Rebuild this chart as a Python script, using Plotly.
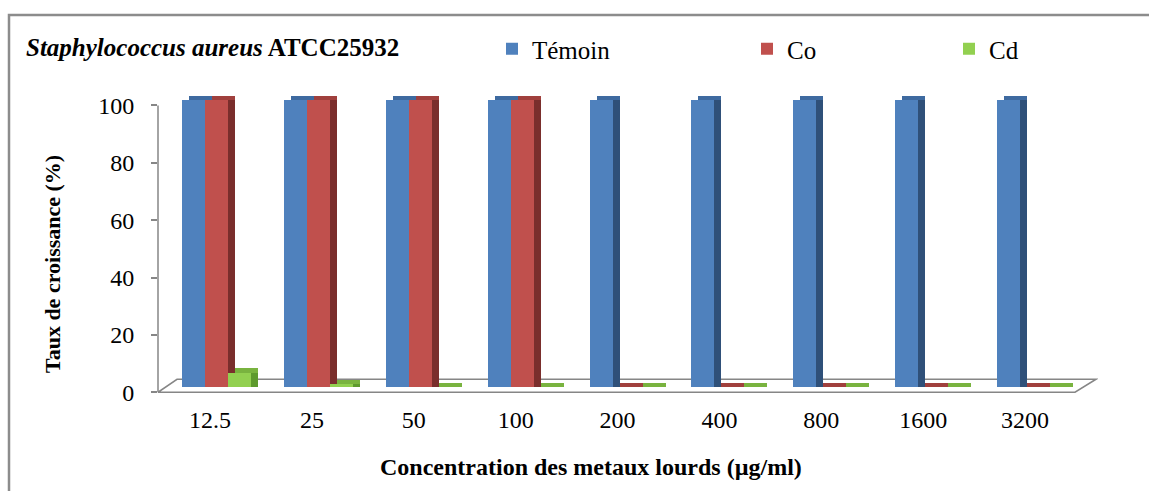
import plotly.graph_objects as go

# ---------------- data ----------------
categories = ["12.5", "25", "50", "100", "200", "400", "800", "1600", "3200"]
temoin = [100, 100, 100, 100, 100, 100, 100, 100, 100]
co = [100, 100, 100, 100, 0, 0, 0, 0, 0]
cd = [5, 1, 0, 0, 0, 0, 0, 0, 0]
series_names = ["Témoin", "Co", "Cd"]

# ---------------- styling ----------------
W, H = 1149, 491
ML, MR, MT, MB = 158, 51, 94, 93
PW, PH = W - ML - MR, H - MT - MB

GROUP_PX = 101.875          # pixels per category
CENTER0_PX = 216.5          # pixel of first group centre
X_MIN = (ML - CENTER0_PX) / GROUP_PX
X_MAX = (W - MR - CENTER0_PX) / GROUP_PX
Y_MIN, Y_MAX = -2, 104
PX_PER_Y = PH / (Y_MAX - Y_MIN)

BAR_W = 23 / GROUP_PX
DX = 7 / GROUP_PX           # 3D depth (x)
DY = 4.5 / PX_PER_Y         # 3D depth (y)
BAR_BASE = 5 / PX_PER_Y     # bars stand in the middle of the floor
FLOOR_D = 13 / PX_PER_Y
LABEL_SHIFT = 6.5 / GROUP_PX

front_cols = ["#4F81BD", "#C0504D", "#92D050"]
top_cols = ["#3E6AA0", "#A0403D", "#79B33F"]
side_cols = ["#2F5079", "#7A2E2C", "#5E9A2E"]
offsets = [-1.5 * BAR_W, -0.5 * BAR_W, 0.5 * BAR_W]

SERIF = "Liberation Serif, Times New Roman, serif"
GRAY = "#868686"

xs = list(range(len(categories)))
fig = go.Figure()

legend_ids = ["legend", "legend2", "legend3"]
for k, vals in enumerate([temoin, co, cd]):
    # side face (dark)
    fig.add_trace(go.Bar(
        x=xs, y=[v + DY for v in vals], base=BAR_BASE,
        offset=offsets[k] + DX, width=BAR_W,
        marker=dict(color=side_cols[k], line=dict(width=0)),
        showlegend=False, hoverinfo="skip"))
    # top face (medium)
    fig.add_trace(go.Bar(
        x=xs, y=[DY] * len(vals), base=[BAR_BASE + v for v in vals],
        offset=offsets[k] + DX, width=BAR_W,
        marker=dict(color=top_cols[k], line=dict(width=0)),
        showlegend=False, hoverinfo="skip"))
    # front face
    fig.add_trace(go.Bar(
        x=xs, y=vals, base=BAR_BASE,
        offset=offsets[k], width=BAR_W, name=series_names[k],
        marker=dict(color=front_cols[k], line=dict(width=0)),
        legend=legend_ids[k]))


def px_x(px):
    return (px - ML) / PW


def px_y(py):
    return (H - MB - py) / PH


shapes = []
# floor (parallelogram)
fx0 = X_MIN
fx1 = (1075 - CENTER0_PX) / GROUP_PX
bx0 = (177 - CENTER0_PX) / GROUP_PX
bx1 = (1096 - CENTER0_PX) / GROUP_PX
shapes.append(dict(type="path", xref="x", yref="y",
                   path=f"M {fx0},0 L {fx1},0 L {bx1},{FLOOR_D} L {bx0},{FLOOR_D} Z",
                   line=dict(color=GRAY, width=1.5), layer="below"))
# y axis line
shapes.append(dict(type="line", xref="paper", yref="y", x0=0, x1=0, y0=0, y1=100,
                   line=dict(color=GRAY, width=1.5)))
# chart frame
shapes.append(dict(type="rect", xref="paper", yref="paper",
                   x0=px_x(9), x1=px_x(1160), y0=px_y(500), y1=px_y(15),
                   line=dict(color="#8C8C8C", width=2.5), fillcolor="rgba(0,0,0,0)"))

annotations = [
    dict(text="<b><i>Staphylococcus aureus</i> ATCC25932</b>", xref="paper", yref="paper",
         x=px_x(24), y=px_y(48), xanchor="left", yanchor="middle", showarrow=False,
         font=dict(family=SERIF, size=25, color="black")),
    dict(text="<b>Concentration des metaux lourds (µg/ml)</b>", xref="paper", yref="paper",
         x=px_x(591), y=px_y(467), xanchor="center", yanchor="middle", showarrow=False,
         font=dict(family=SERIF, size=24, color="black")),
    dict(text="<b>Taux de croissance (%)</b>", xref="paper", yref="paper",
         x=px_x(52), y=px_y(264), xanchor="center", yanchor="middle", showarrow=False,
         textangle=-90, font=dict(family=SERIF, size=22, color="black")),
]

legend_common = dict(orientation="h", xanchor="left", yanchor="middle",
                     bgcolor="rgba(0,0,0,0)", borderwidth=0,
                     font=dict(family=SERIF, size=25, color="black"),
                     itemwidth=30, yref="paper", xref="paper")
leg_px = [492, 747, 949]

fig.update_layout(
    width=W, height=H,
    margin=dict(l=ML, r=MR, t=MT, b=MB, pad=0),
    paper_bgcolor="white", plot_bgcolor="white",
    barmode="overlay", bargap=0,
    shapes=shapes, annotations=annotations,
    legend=dict(**legend_common, x=px_x(leg_px[0]), y=px_y(49)),
    legend2=dict(**legend_common, x=px_x(leg_px[1]), y=px_y(49)),
    legend3=dict(**legend_common, x=px_x(leg_px[2]), y=px_y(49)),
    xaxis=dict(range=[X_MIN, X_MAX], tickmode="array",
               tickvals=[i - LABEL_SHIFT for i in xs], ticktext=categories,
               showgrid=False, zeroline=False, showline=False, ticks="",
               ticklabelstandoff=5,
               tickfont=dict(family=SERIF, size=24, color="black")),
    yaxis=dict(range=[Y_MIN, Y_MAX], tickmode="array",
               tickvals=[0, 20, 40, 60, 80, 100],
               showgrid=False, zeroline=False, showline=False,
               ticks="outside", ticklen=6, tickcolor=GRAY, tickwidth=1.5,
               ticklabelstandoff=12,
               tickfont=dict(family=SERIF, size=24, color="black")),
)

fig.write_html("out.html")
